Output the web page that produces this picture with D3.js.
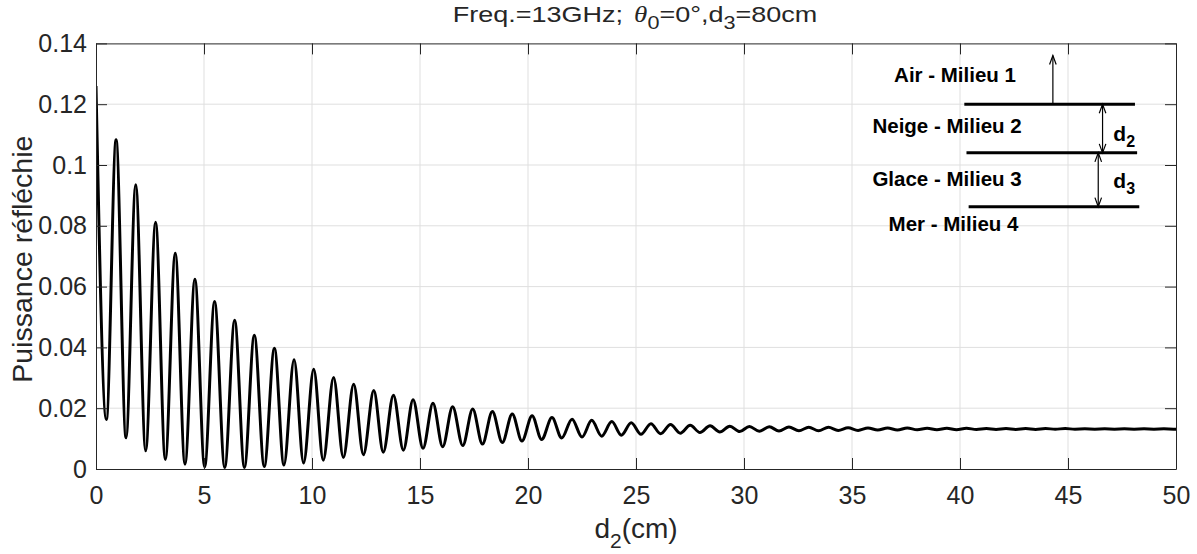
<!DOCTYPE html>
<html>
<head>
<meta charset="utf-8">
<script src="https://cdn.jsdelivr.net/npm/d3@7"></script>
<style>
  body { margin: 0; background: #fff; }
  svg text { font-family: "Liberation Sans", Arial, Helvetica, sans-serif; fill: #262626; }
</style>
</head>
<body>
<svg id="main_chart" width="1197" height="554"></svg>
<script>
// extrema of the curve (peaks and troughs)
const d2_cm = [
  0.00, 0.48, 0.93, 1.39, 1.84, 2.30, 2.76, 3.21, 3.67, 4.12,
  4.58, 5.03, 5.49, 5.96, 6.42, 6.87, 7.33, 7.79, 8.26, 8.70,
  9.17, 9.61, 10.08, 10.52, 11.00, 11.45, 11.93, 12.38, 12.86, 13.30,
  13.77, 14.23, 14.68, 15.14, 15.60, 16.05, 16.51, 16.98, 17.44, 17.89,
  18.35, 18.81, 19.27, 19.72, 20.19, 20.63, 21.11, 21.56, 22.04, 22.50,
  22.95, 23.41, 23.88, 24.32, 24.78, 25.23, 25.69, 26.14, 26.60, 27.05,
  27.51, 27.96, 28.43, 28.88, 29.34, 29.80, 30.25, 30.71, 31.17, 31.62,
  32.08, 32.54, 33.00, 33.45, 33.91, 34.36, 34.82, 35.28, 35.74, 36.19,
  36.65, 37.10, 37.56, 38.02, 38.48, 38.93, 39.39, 39.84, 40.30, 40.76,
  41.22, 41.67, 42.13, 42.58, 43.04, 43.50, 43.96, 44.41, 44.87, 45.32,
  45.78, 46.24, 46.70, 47.15, 47.61, 48.06, 48.52, 48.98, 49.44, 49.89,
  50.00
];
const puissance = [
  0.1260, 0.0163, 0.1083, 0.0103, 0.0935, 0.0060, 0.0812, 0.0031, 0.0710, 0.0016,
  0.0624, 0.0007, 0.0551, 0.0005, 0.0489, 0.0005, 0.0440, 0.0008, 0.0397, 0.0013,
  0.0359, 0.0020, 0.0328, 0.0029, 0.0301, 0.0038, 0.0279, 0.0047, 0.0258, 0.0055,
  0.0243, 0.0062, 0.0228, 0.0068, 0.0216, 0.0073, 0.0205, 0.0077, 0.0197, 0.0082,
  0.0189, 0.0087, 0.0181, 0.0092, 0.0175, 0.0097, 0.0169, 0.0102, 0.0164, 0.0105,
  0.0160, 0.0108, 0.0156, 0.0111, 0.0152, 0.0114, 0.0149, 0.0116, 0.0146, 0.0118,
  0.0144, 0.0120, 0.0142, 0.0122, 0.0141, 0.0123, 0.0140, 0.0124, 0.0139, 0.0125,
  0.0138, 0.0126, 0.0137, 0.0126, 0.0137, 0.0127, 0.0136, 0.0127, 0.0135, 0.0128,
  0.0135, 0.0128, 0.0135, 0.0129, 0.0134, 0.0129, 0.0134, 0.0129, 0.0134, 0.0130,
  0.0133, 0.0130, 0.0133, 0.0130, 0.0133, 0.0130, 0.0133, 0.0131, 0.0133, 0.0131,
  0.0132, 0.0131, 0.0132, 0.0131, 0.0132, 0.0131, 0.0132, 0.0131, 0.0132, 0.0131,
  0.0131
];
const xTicks = [0, 5, 10, 15, 20, 25, 30, 35, 40, 45, 50];
const yTicks = [0, 0.02, 0.04, 0.06, 0.08, 0.1, 0.12, 0.14];
const yTickLabels = ['0', '0.02', '0.04', '0.06', '0.08', '0.1', '0.12', '0.14'];
const layerNames = ['Air - Milieu 1', 'Neige - Milieu 2', 'Glace - Milieu 3', 'Mer - Milieu 4'];

(function() {
  const svg = d3.select('#main_chart');
  const W = 1197, H = 554;
  const margin = {top: 43.4, right: 21, bottom: 85, left: 96};
  const x0 = margin.left, x1 = W - margin.right;
  const y0 = H - margin.bottom, y1 = margin.top;
  const axisColor = '#262626';

  const xScale = d3.scaleLinear().domain([0, 50]).range([x0, x1]);
  const yScale = d3.scaleLinear().domain([0, 0.14]).range([y0, y1]);

  svg.append('defs').append('clipPath').attr('id', 'plot_clip')
    .append('rect').attr('x', x0).attr('y', y1).attr('width', x1 - x0).attr('height', y0 - y1);

  // grid
  const grid = svg.append('g').attr('id', 'grid').attr('stroke', '#dfdfdf').attr('stroke-width', 1);
  grid.selectAll('line.vgrid').data(xTicks.slice(1, -1)).enter().append('line').attr('class', 'vgrid')
    .attr('x1', d => xScale(d)).attr('x2', d => xScale(d)).attr('y1', y0).attr('y2', y1);
  grid.selectAll('line.hgrid').data(yTicks.slice(1, -1)).enter().append('line').attr('class', 'hgrid')
    .attr('y1', d => yScale(d)).attr('y2', d => yScale(d)).attr('x1', x0).attr('x2', x1);

  // curve through the read extrema
  const line = d3.line()
    .x(i => xScale(d2_cm[i]))
    .y(i => yScale(puissance[i]))
    .curve(d3.curveMonotoneX);
  svg.append('path').datum(d3.range(d2_cm.length))
    .attr('clip-path', 'url(#plot_clip)')
    .attr('fill', 'none').attr('stroke', '#000').attr('stroke-width', 3)
    .attr('stroke-linejoin', 'round')
    .attr('d', line);

  // axes, ticks inward on all four sides
  svg.append('g').attr('transform', 'translate(0,' + y0 + ')')
    .call(d3.axisBottom(xScale).tickValues(xTicks).tickSizeInner(-11).tickSizeOuter(0).tickPadding(17));
  svg.append('g').attr('transform', 'translate(' + x0 + ',0)')
    .call(d3.axisLeft(yScale).tickValues(yTicks).tickFormat((d, i) => yTickLabels[i])
      .tickSizeInner(-11).tickSizeOuter(0).tickPadding(9));
  svg.append('g').attr('transform', 'translate(0,' + y1 + ')')
    .call(d3.axisTop(xScale).tickValues(xTicks).tickFormat('').tickSizeInner(-11).tickSizeOuter(0));
  svg.append('g').attr('transform', 'translate(' + x1 + ',0)')
    .call(d3.axisRight(yScale).tickValues(yTicks).tickFormat('').tickSizeInner(-11).tickSizeOuter(0));
  svg.selectAll('.domain, .tick line').attr('stroke', axisColor).attr('stroke-width', 1);
  svg.selectAll('.tick text').attr('fill', axisColor).style('font-size', '25px')
    .style('font-family', '"Liberation Sans", Arial, sans-serif');

  // title, a little wider than tall like the original rendering
  const cx = (x0 + x1) / 2;
  const title = svg.append('g').attr('transform', 'translate(' + (cx - 1) + ',21.5) scale(1.2,1)')
    .append('text').attr('x', 0).attr('y', 0).attr('text-anchor', 'middle')
    .style('font-size', '22.5px');
  title.append('tspan').text('Freq.=13GHz; ');
  title.append('tspan').attr('dx', 3).style('font-family', '"Liberation Serif", "DejaVu Serif", serif')
    .style('font-style', 'italic').text('\u03B8');
  title.append('tspan').attr('dy', 7).style('font-size', '18px').text('0');
  title.append('tspan').attr('dy', -7).text('=0\u00B0,d');
  title.append('tspan').attr('dy', 7).style('font-size', '18px').text('3');
  title.append('tspan').attr('dy', -7).text('=80cm');

  // axis labels
  const xl = svg.append('text').attr('x', cx).attr('y', 538).attr('text-anchor', 'middle')
    .style('font-size', '28px');
  xl.append('tspan').text('d');
  xl.append('tspan').attr('dy', 10).style('font-size', '21px').text('2');
  xl.append('tspan').attr('dy', -10).text('(cm)');

  svg.append('text').attr('transform', 'translate(32,' + ((y0 + y1) / 2 + 3) + ') rotate(-90)')
    .attr('text-anchor', 'middle').style('font-size', '28.5px').text('Puissance r\u00E9fl\u00E9chie');

  // layer sketch (drawn in data coordinates)
  const sketch = svg.append('g').attr('id', 'sketch');
  const bounds = [
    {y: 0.120, xa: 40.2, xb: 48.1},
    {y: 0.104, xa: 40.3, xb: 48.2},
    {y: 0.0863, xa: 40.4, xb: 48.3}
  ];
  sketch.selectAll('line.bound').data(bounds).enter().append('line').attr('class', 'bound')
    .attr('x1', d => xScale(d.xa)).attr('x2', d => xScale(d.xb))
    .attr('y1', d => yScale(d.y)).attr('y2', d => yScale(d.y))
    .attr('stroke', '#000').attr('stroke-width', 3);

  const labelPos = [
    {x: 39.77, y: 0.1274}, {x: 39.4, y: 0.1106}, {x: 39.4, y: 0.0932}, {x: 39.7, y: 0.0784}
  ];
  sketch.selectAll('text.layer').data(layerNames).enter().append('text').attr('class', 'layer')
    .attr('x', (d, i) => xScale(labelPos[i].x)).attr('y', (d, i) => yScale(labelPos[i].y))
    .attr('text-anchor', 'middle').style('font-size', '20.5px').style('font-weight', 'bold')
    .style('fill', '#000').text(d => d);

  function arrow(xv, ya, yb, headA, headB) {
    const px = xScale(xv), pa = yScale(ya), pb = yScale(yb);
    sketch.append('line').attr('x1', px).attr('x2', px).attr('y1', pa).attr('y2', pb)
      .attr('stroke', '#000').attr('stroke-width', 1.2);
    function head(py, dir) {
      sketch.append('path')
        .attr('d', 'M' + (px - 3.3) + ',' + (py + dir * 9) + 'L' + px + ',' + py + 'L' + (px + 3.3) + ',' + (py + dir * 9))
        .attr('fill', 'none').attr('stroke', '#000').attr('stroke-width', 1.2);
    }
    if (headA) head(pa, pa < pb ? 1 : -1);
    if (headB) head(pb, pb < pa ? 1 : -1);
  }
  arrow(44.3, 0.120, 0.136, false, true);
  arrow(46.6, 0.120, 0.104, true, true);
  arrow(46.4, 0.104, 0.0863, true, true);

  const dLabels = [{t: 'd', s: '2', y: 0.108}, {t: 'd', s: '3', y: 0.0923}];
  dLabels.forEach(function(d) {
    const t = sketch.append('text').attr('x', xScale(47.1)).attr('y', yScale(d.y))
      .style('font-size', '21px').style('font-weight', 'bold').style('fill', '#000');
    t.append('tspan').text(d.t);
    t.append('tspan').attr('dy', 6).style('font-size', '16px').text(d.s);
  });
}());
</script>
</body>
</html>
